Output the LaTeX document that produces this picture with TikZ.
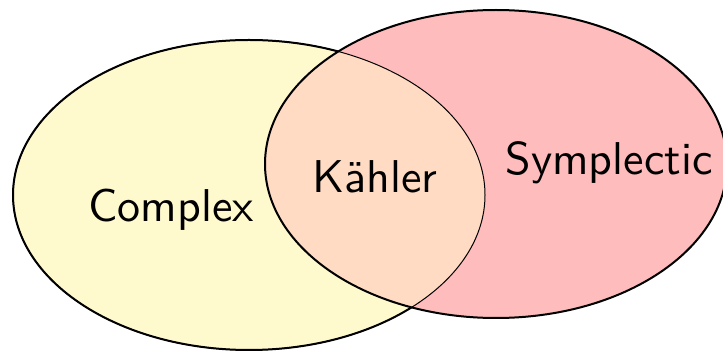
\documentclass[tikz,border=0pt]{standalone}
\usepackage{fontspec}
\newfontfamily\lmsten{lmsans10-regular.otf}
\definecolor{cyellow}{RGB}{255,249,206}
\definecolor{cred}{RGB}{255,188,188}
\definecolor{cpeach}{RGB}{255,219,196}
\tikzset{
  lbl/.style={font=\lmsten\fontsize{23}{28}\selectfont, inner sep=0pt, anchor=base, text=black},
  outer/.style={line width=1pt, draw=black},
  inner/.style={line width=0.5pt, draw=black}
}
\begin{document}
\begin{tikzpicture}[x=0.5pt,y=-0.5pt]
\useasboundingbox (0,0) rectangle (723,352);
\coordinate (yc) at (249,195);
\coordinate (rc) at (496,164);
\def\yell{(yc) ellipse [x radius=118pt, y radius=77.5pt]}
\def\redl{(rc) ellipse [x radius=115.5pt, y radius=77pt]}
\fill[cyellow] \yell;
\fill[cred] \redl;
\begin{scope}
  \clip \yell;
  \fill[cpeach] \redl;
\end{scope}
\draw[inner] \yell;
\begin{scope}[even odd rule]
  \clip (-20,-20) rectangle (760,380) \redl;
  \draw[outer] \yell;
\end{scope}
\draw[outer] \redl;
\node[lbl] (complex) at (171,222) {Complex};
\node[lbl] (kahler) at (375,193) {Kähler};
\node[lbl] (symplectic) at (609,175) {Symplectic};
\end{tikzpicture}
\end{document}
